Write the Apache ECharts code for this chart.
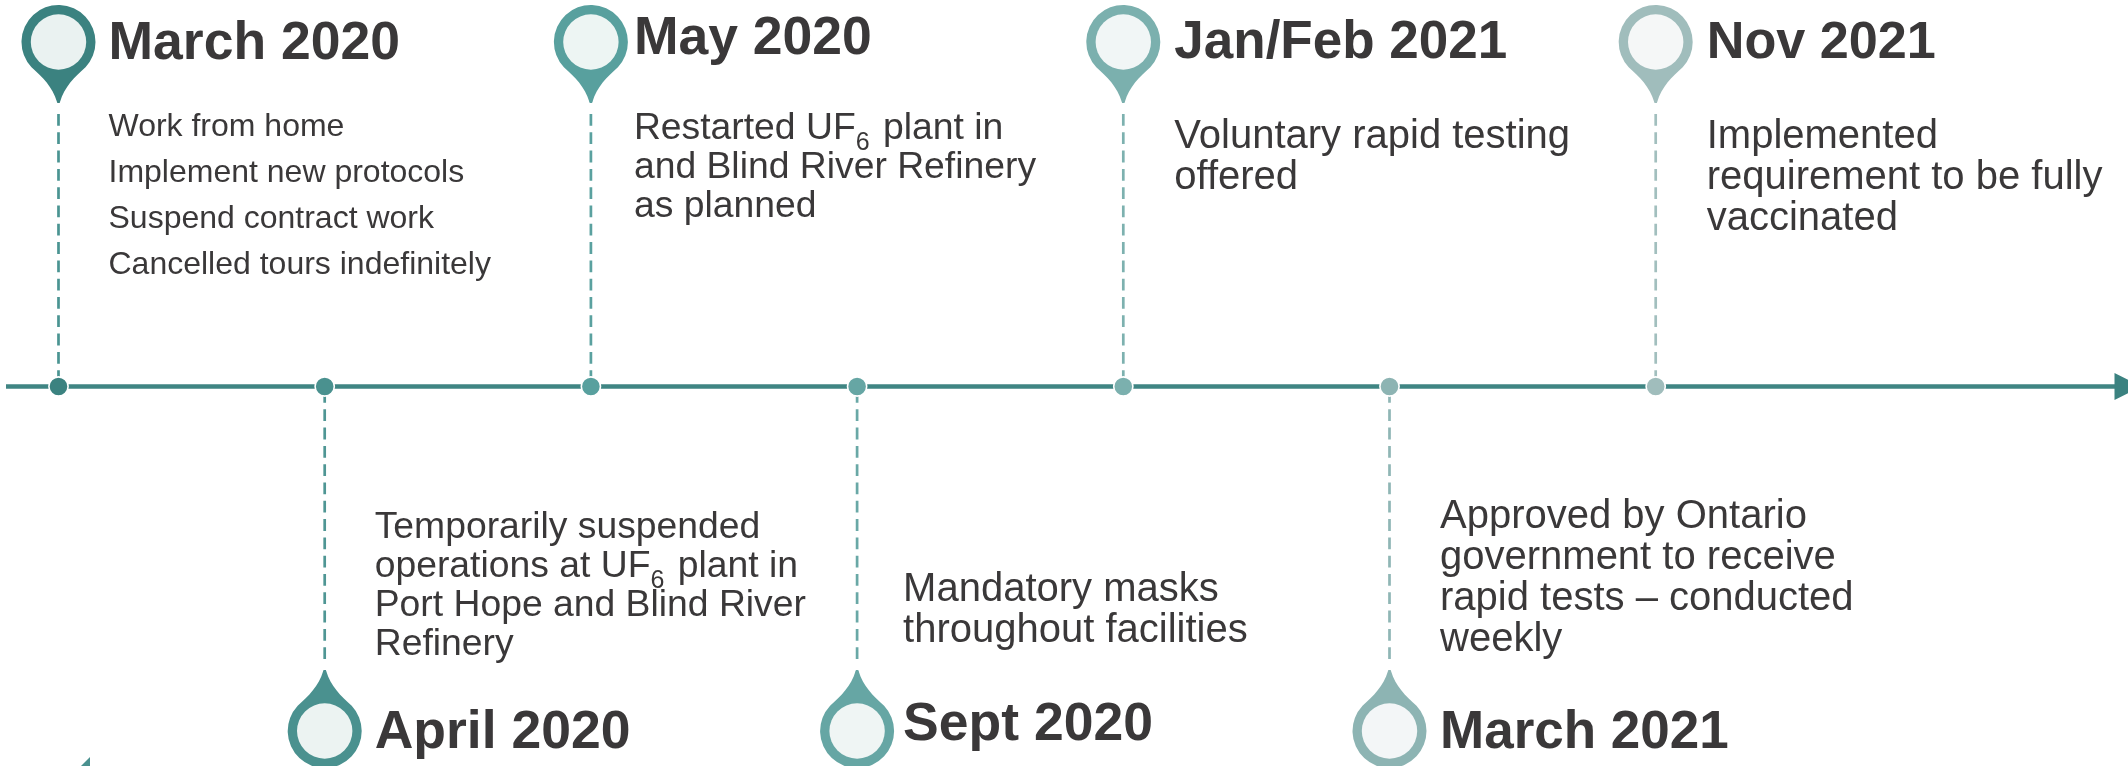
<!doctype html>
<html>
<head>
<meta charset="UTF-8">
<title>Timeline</title>
<style>
html,body{margin:0;padding:0;background:#fff;}
#chart{width:2128px;height:766px;}
</style>
</head>
<body>
<div id="chart"></div>
<script src="https://cdn.jsdelivr.net/npm/echarts@6/dist/echarts.min.js"></script>
<script>
// timeline content
var eventOrder = [0, 1, 2, 3, 4, 5, 6];
var eventSide = [1, -1, 1, -1, 1, -1, 1]; // 1 above the line, -1 below
var eventTitles = ['March 2020', 'April 2020', 'May 2020', 'Sept 2020', 'Jan/Feb 2021', 'March 2021', 'Nov 2021'];
var eventBodies = [
	['Work from home', 'Implement new protocols', 'Suspend contract work', 'Cancelled tours indefinitely'],
	['Temporarily suspended', 'operations at UF_6 plant in', 'Port Hope and Blind River', 'Refinery'],
	['Restarted UF_6 plant in', 'and Blind River Refinery', 'as planned'],
	['Mandatory masks', 'throughout facilities'],
	['Voluntary rapid testing', 'offered'],
	['Approved by Ontario', 'government to receive', 'rapid tests \u2013 conducted', 'weekly'],
	['Implemented', 'requirement to be fully', 'vaccinated']
];

// look
var pinColors = ['#3b8280', '#4a918f', '#58a09e', '#66a6a4', '#7bb0ae', '#8db4b3', '#a0bdbc'];
var stemColors = ['#4a9492', '#4f9694', '#5aa19f', '#69a8a6', '#7db1af', '#8fb6b5', '#a2bfbe'];
var pinInner = ['#eaf2f1', '#ecf3f2', '#edf5f3', '#eff5f4', '#f1f6f6', '#f3f6f7', '#f5f7f7'];
var textColor = '#3a3839';
var fontName = '"Liberation Sans", Arial, sans-serif';

// layout, pixels measured from the line (y) and the stem (x)
var titleRise = [324, -365, 329, -357, 325, -365, 325];
var bodyRise = [248, -154, 245, -217, 236, -144, 236];
var bodyGap = [46, 39, 39, 41, 41, 41, 41];
var bodySize = [32, 37.3, 37.3, 40, 40, 40, 40];
var titleSize = [53.5, 53.5, 53.5, 53.5, 53, 53, 52.2];
var textDx = [50, 50, 43, 46, 51, 50.5, 51];
var pinDrop = 344.5; // from the line to the pin centre
var step = 266.2;
var lineY = 386.5;

var measure = document.createElement('canvas').getContext('2d');
function textWidth(str, size) {
	measure.font = size + 'px ' + fontName;
	return measure.measureText(str).width;
}

function textEl(str, x, baseline, size, bold) {
	return {
		type: 'text',
		silent: true,
		style: {
			text: str,
			x: x,
			y: baseline - size * 0.345,
			fill: textColor,
			font: (bold ? 'bold ' : '') + size + 'px ' + fontName,
			align: 'left',
			verticalAlign: 'middle'
		}
	};
}

function pinPath(cx, cy, s) {
	return 'M' + (cx - 1.5) + ' ' + (cy + s * 60) +
		'C' + (cx - 6) + ' ' + (cy + s * 45) + ' ' + (cx - 16) + ' ' + (cy + s * 35) + ' ' + (cx - 27) + ' ' + (cy + s * 25.3) +
		'A37 37 0 1 ' + (s > 0 ? 1 : 0) + ' ' + (cx + 27) + ' ' + (cy + s * 25.3) +
		'C' + (cx + 16) + ' ' + (cy + s * 35) + ' ' + (cx + 6) + ' ' + (cy + s * 45) + ' ' + (cx + 1.5) + ' ' + (cy + s * 60) + 'Z';
}

function renderEvent(params, api) {
	var i = api.value(0);
	var s = api.value(1);
	var p = api.coord([i, 0]);
	var color = pinColors[i];
	var cy = p[1] - s * pinDrop;
	var kids = [];

	// dashes run from the pin to the line
	kids.push({
		type: 'line',
		silent: true,
		shape: { x1: p[0], y1: cy + s * 72, x2: p[0], y2: p[1] - s * 9 },
		style: { stroke: stemColors[i], lineWidth: 2.7, lineDash: [11.8, 6.5] }
	});
	kids.push({
		type: 'line',
		silent: true,
		shape: { x1: p[0], y1: cy + s * 56, x2: p[0], y2: cy + s * 61 },
		style: { stroke: color, lineWidth: 2.7 }
	});
	var top = s > 0 ? cy - 37 : cy - 60;
	kids.push({
		type: 'path',
		silent: true,
		shape: { pathData: pinPath(p[0], cy, s), x: p[0] - 37, y: top, width: 74, height: 97 },
		style: { fill: color }
	});
	kids.push({
		type: 'circle',
		silent: true,
		shape: { cx: p[0], cy: cy, r: 27.7 },
		style: { fill: pinInner[i] }
	});
	kids.push({
		type: 'circle',
		silent: true,
		shape: { cx: p[0], cy: p[1], r: 9.6 },
		style: { fill: color, stroke: '#fff', lineWidth: 1.6 }
	});

	var tx = p[0] + textDx[i];
	kids.push(textEl(eventTitles[i], tx, p[1] - titleRise[i], titleSize[i], true));
	eventBodies[i].forEach(function(line, n) {
		var base = p[1] - bodyRise[i] + n * bodyGap[i];
		var size = bodySize[i];
		var parts = line.split('_6');
		kids.push(textEl(parts[0], tx, base, size));
		if(parts.length > 1) {
			var w = textWidth(parts[0], size);
			kids.push(textEl('6', tx + w, base + 10, 25));
			kids.push(textEl(parts[1], tx + w + 17, base, size));
		}
	});
	return { type: 'group', children: kids };
}

// scale: one unit on x is one step between events, y is pixels from the line
var xMin = -58.5 / step;
var xMax = (2128 - 58.5) / step;

var myChart = echarts.init(document.getElementById('chart'), null, { renderer: 'canvas' });
myChart.setOption({
	animation: false,
	backgroundColor: '#fff',
	grid: { left: 0, right: 0, top: 0, bottom: 0 },
	xAxis: { type: 'value', min: xMin, max: xMax, show: false },
	yAxis: { type: 'value', min: lineY - 766, max: lineY, show: false },
	series: [{
		// the time line and its arrow
		type: 'line',
		silent: true,
		symbol: 'none',
		z: 1,
		lineStyle: { color: '#3f8583', width: 4.5 },
		data: [[-52.5 / step, 0], [(2116 - 58.5) / step, 0]]
	}, {
		type: 'scatter',
		silent: true,
		symbol: 'triangle',
		symbolRotate: -90,
		symbolSize: [27, 27],
		z: 2,
		itemStyle: { color: '#3b8280', opacity: 1 },
		data: [[(2128 - 58.5) / step, 0]]
	}, {
		// corner of a clipped arrow at the bottom left
		type: 'custom',
		silent: true,
		z: 2,
		renderItem: function(params, api) {
			var c = api.coord([api.value(0), api.value(1)]);
			return {
				type: 'polygon',
				shape: { points: [[c[0], c[1]], [c[0], c[1] + 10], [c[0] - 10, c[1] + 10]] },
				style: { fill: '#4a918f' }
			};
		},
		data: [[(90 - 58.5) / step, lineY - 757]]
	}, {
		type: 'custom',
		silent: true,
		z: 3,
		clip: false,
		renderItem: renderEvent,
		data: eventOrder.map(function(i) { return [i, eventSide[i]]; })
	}]
});
</script>
</body>
</html>
